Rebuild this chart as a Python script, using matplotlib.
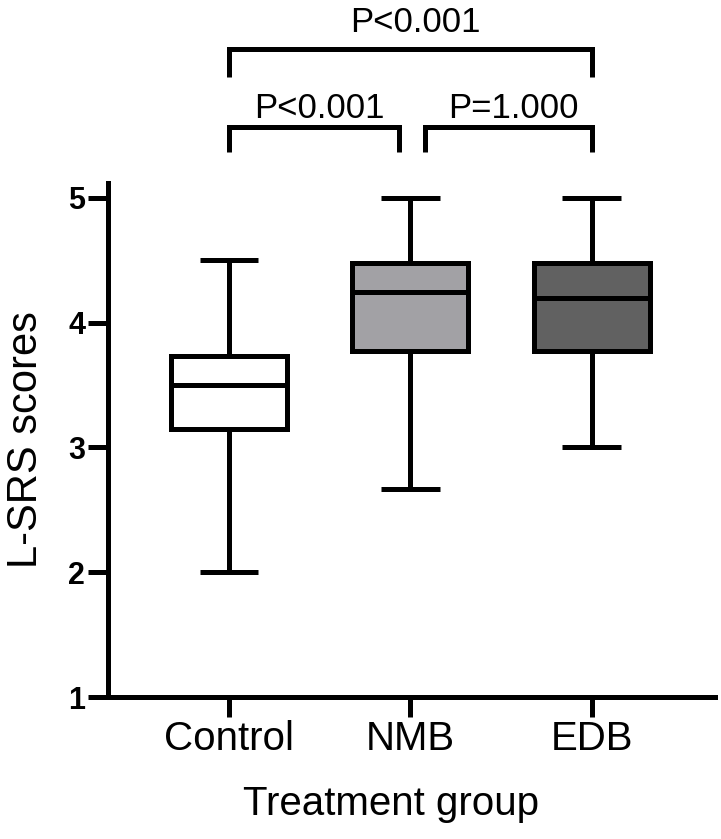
import matplotlib
matplotlib.use("Agg")
import matplotlib.pyplot as plt

plt.rcParams['font.family'] = ['Liberation Sans', 'DejaVu Sans']

# Data (box summary statistics)
groups = ["Control", "NMB", "EDB"]
whisker_low = [2.0, 2.67, 3.0]
q1 = [3.15, 3.77, 3.77]
median = [3.5, 4.25, 4.2]
q3 = [3.73, 4.48, 4.48]
whisker_high = [4.5, 5.0, 5.0]
fill_colors = ["#ffffff", "#a2a1a5", "#616161"]

# significance comparisons: (group i, group j, label)
comparisons = [(0, 1, "P<0.001"), (1, 2, "P=1.000"), (0, 2, "P<0.001")]

y_ticks = [1, 2, 3, 4, 5]

LW = 3.6

fig = plt.figure(figsize=(7.21, 8.39), dpi=100)
ax = fig.add_axes([0.1498, 0.1692, 0.9917 - 0.1498, 0.7819 - 0.1692])

stats = []
for g, lo, a, m, b, hi in zip(groups, whisker_low, q1, median, q3, whisker_high):
    stats.append(dict(label=g, whislo=lo, q1=a, med=m, q3=b, whishi=hi, fliers=[]))

positions = list(range(len(groups)))
bp = ax.bxp(stats, positions=positions, widths=0.64, capwidths=0.325,
            patch_artist=True, showfliers=False,
            boxprops=dict(linewidth=LW, edgecolor='black'),
            medianprops=dict(linewidth=LW, color='black', solid_capstyle='butt'),
            whiskerprops=dict(linewidth=LW, color='black', solid_capstyle='butt'),
            capprops=dict(linewidth=LW, color='black', solid_capstyle='butt'))
for patch, c in zip(bp['boxes'], fill_colors):
    patch.set_facecolor(c)
    patch.set_joinstyle('miter')

ax.set_xlim(-0.667, 2.68)
ax.set_ylim(1, 5.12)
ax.set_yticks(y_ticks)
ax.set_yticklabels([str(t) for t in y_ticks], fontsize=22, fontweight='bold')
ax.set_xticks(positions)
ax.set_xticklabels(groups, fontsize=29)

for s in ['top', 'right']:
    ax.spines[s].set_visible(False)
for s in ['left', 'bottom']:
    ax.spines[s].set_linewidth(LW)
ax.tick_params(axis='both', direction='out', length=14.5, width=LW, pad=2)

ax.set_ylabel("L-SRS scores", fontsize=30, labelpad=16)
ax.set_xlabel("Treatment group", fontsize=29)
ax.xaxis.set_label_coords(0.466, -0.171)

# significance brackets
bracket_levels = {(0, 1): (5.37, 5.57, 5.64), (1, 2): (5.37, 5.57, 5.64), (0, 2): (5.97, 6.19, 6.33)}
x_adj = {(0, 1): (0.0, 0.94), (1, 2): (1.08, 2.0), (0, 2): (0.0, 2.0)}
for i, j, lab in comparisons:
    ylo, yhi, ytxt = bracket_levels[(i, j)]
    x1, x2 = x_adj[(i, j)]
    ax.plot([x1, x1, x2, x2], [ylo, yhi, yhi, ylo], color='black', lw=LW,
            clip_on=False, solid_joinstyle='miter', solid_capstyle='butt')
    ax.text((x1 + x2) / 2 + 0.03, ytxt, lab, ha='center', va='baseline',
            fontsize=25, clip_on=False)

fig.savefig("out.png", dpi=100)
